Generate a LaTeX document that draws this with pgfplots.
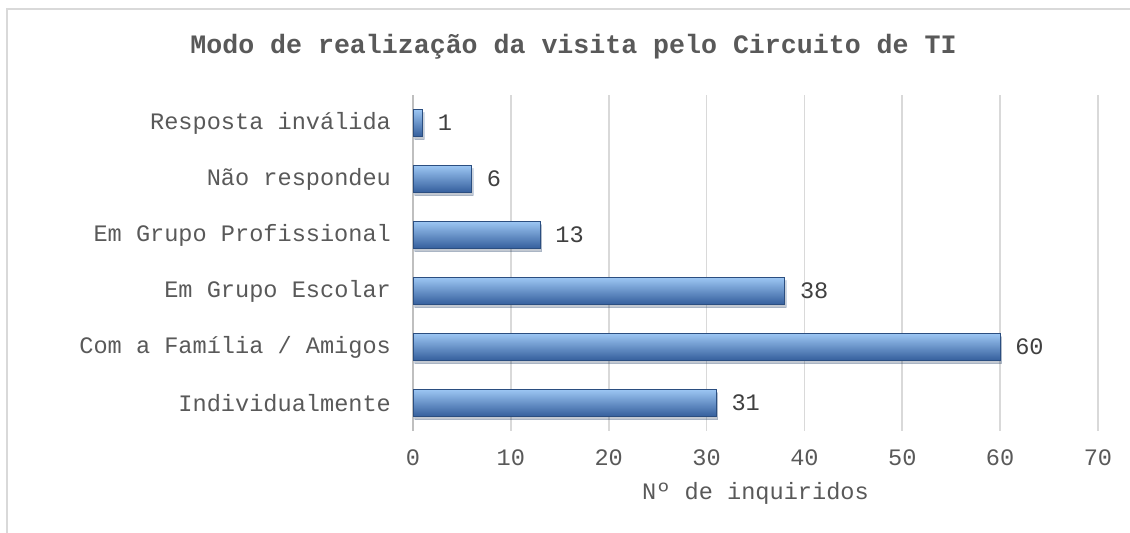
\documentclass[border=0pt]{standalone}
\usepackage{pgfplots}
\pgfplotsset{compat=1.18}
\usepackage{fontspec}
\setmainfont{Liberation Mono}
\definecolor{txt}{HTML}{595959}
\definecolor{lbl}{HTML}{404040}
\definecolor{gridc}{HTML}{D9D9D9}
\definecolor{axisc}{HTML}{BFBFBF}
\definecolor{bartop}{HTML}{9CC6F3}
\definecolor{barmid}{HTML}{558BD1}
\definecolor{barbot}{HTML}{345E9C}
\definecolor{bardraw}{HTML}{2B4E80}
\pgfplotsset{mybar/.style={draw=bardraw, line width=0.5pt, top color=bartop, middle color=barmid, bottom color=barbot,
  preaction={fill=black, opacity=0.15, transform canvas={xshift=0.8pt, yshift=-1.6pt}}}}
\begin{document}
\begin{tikzpicture}[x=1pt,y=1pt]
\path[use as bounding box] (0,0) rectangle (565,-266.5);
\draw[gridc, line width=0.7pt] (3.5,-266.5) -- (3.5,-4.5) -- (565,-4.5);
\node[font=\fontsize{13.3}{15}\selectfont\bfseries, text=txt] at (286.75,-23.5) {Modo de realização da visita pelo Circuito de TI};
\begin{axis}[
  at={(206.5pt,-215.5pt)}, anchor=south west,
  scale only axis, width=342.5pt, height=168pt,
  xmin=0, xmax=70, ymin=-0.5, ymax=5.5,
  xtick={0,10,...,70}, ytick={0,1,2,3,4,5},
  yticklabels={Individualmente, Com a Família / Amigos, Em Grupo Escolar, Em Grupo Profissional, Não respondeu, Resposta inválida},
  /pgf/number format/assume math mode=true,
  axis lines*=left,
  x axis line style={draw=none},
  y axis line style={draw=axisc, line width=1pt},
  major tick length=0pt,
  xmajorgrids, ymajorgrids=false,
  major grid style={draw=gridc, line width=0.8pt},
  tick label style={font=\fontsize{11.8}{14}\selectfont, text=txt},
  xticklabel style={anchor=center, yshift=-13.5pt},
  yticklabel style={anchor=east, xshift=-7.5pt},
  xlabel={Nº de inquiridos},
  xlabel style={at={(rel axis cs:0.5,0)}, anchor=center, yshift=-31pt, font=\fontsize{11.8}{14}\selectfont, text=txt},
  ylabel={Modo},
  ylabel style={at={(rel axis cs:0,0.479)}, anchor=center, xshift=-179pt, font=\fontsize{11.8}{14}\selectfont, text=txt},
  xbar, bar width=13.5pt, bar shift=0pt,
  nodes near coords,
  nodes near coords style={font=\fontsize{11.8}{14}\selectfont, text=lbl, anchor=west, xshift=4pt},
]
\addplot[mybar] coordinates {(31,0)};
\addplot[mybar] coordinates {(60,1)};
\addplot[mybar] coordinates {(38,2)};
\addplot[mybar] coordinates {(13,3)};
\addplot[mybar] coordinates {(6,4)};
\addplot[mybar] coordinates {(1,5)};
\end{axis}
\end{tikzpicture}
\end{document}
